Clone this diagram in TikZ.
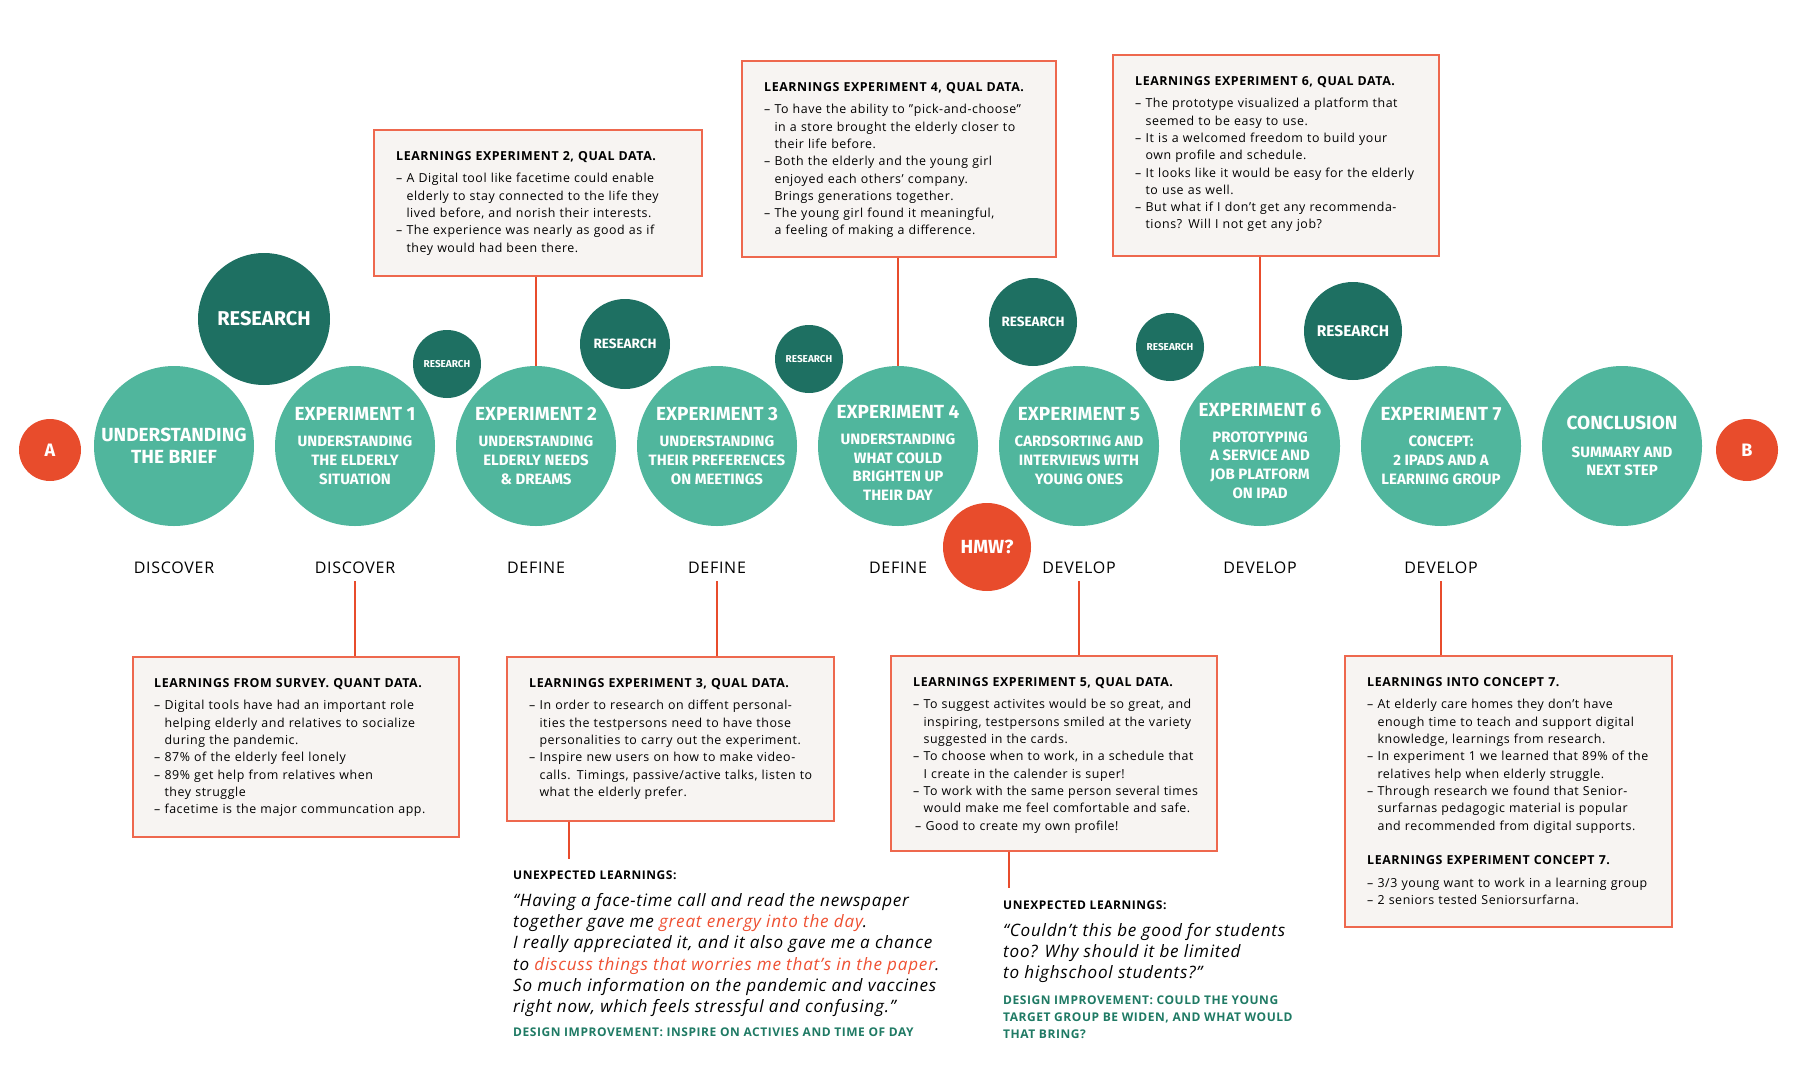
\documentclass[tikz,border=0pt]{standalone}
\usepackage{fontspec}
\setmainfont{Open Sans}[LetterSpace=4.5]
\newfontfamily\circfont{Fira Sans}
\usetikzlibrary{positioning}

\definecolor{stepteal}{RGB}{80,182,157}
\definecolor{resteal}{RGB}{30,112,98}
\definecolor{endred}{RGB}{232,76,44}
\definecolor{boxfill}{RGB}{247,244,242}
\definecolor{boxline}{RGB}{238,104,78}
\definecolor{ideagreen}{RGB}{31,122,100}
\definecolor{quotered}{RGB}{238,80,50}

\newcommand{\dsh}{–\ }
\newcommand{\ind}{\phantom{–\ }}
\newcommand{\stitle}[1]{{\fontsize{19}{19}\selectfont #1}}

\begin{document}
\begin{tikzpicture}[x=1pt,y=-1pt,
  stage/.style={circle,fill=stepteal,text=white,minimum size=160pt,inner sep=0pt,align=center,
    font=\circfont\bfseries\fontsize{15}{18.7}\selectfont},
  stagetext/.style={text=white,inner sep=0pt,align=center,font=\circfont\bfseries\fontsize{15}{18.7}\selectfont},
  research/.style={circle,fill=resteal,text=white,inner sep=0pt,font=\circfont\bfseries},
  endpoint/.style={circle,fill=endred,text=white,inner sep=0pt,font=\circfont\bfseries\fontsize{18}{18}\selectfont},
  phase/.style={font=\fontsize{16}{16}\selectfont},
  learnbox/.style={draw=boxline,line width=1.8pt,fill=boxfill,inner sep=0pt,anchor=north west},
  learntext/.style={anchor=north west,inner sep=0pt,align=left,font=\fontsize{12.4}{17.3}\selectfont},
  unexp/.style={anchor=north west,inner sep=0pt,font=\bfseries\fontsize{12}{15}\selectfont},
  quote/.style={anchor=north west,inner sep=0pt,align=left,font=\itshape\fontsize{17.1}{21.3}\selectfont},
  idea/.style={anchor=north west,inner sep=0pt,align=left,text=ideagreen,font=\bfseries\fontsize{12}{17}\selectfont},
  link/.style={draw=endred,line width=2.4pt},
]
\useasboundingbox (0,0) rectangle (1795,1084);

% learning boxes, top row
\node[learnbox,minimum width=328pt,minimum height=146pt] (b2) at (373,129) {};
\node[learntext,text width=315pt] (t2) at ([shift={(23,22)}]b2.north west) {%
{\bfseries LEARNINGS EXPERIMENT 2, QUAL DATA.}\\[5.4pt]
\dsh A Digital tool like facetime could enable\\
\ind elderly to stay connected to the life they\\
\ind lived before, and norish their interests.\\
\dsh The experience was nearly as good as if\\
\ind they would had been there.};

\node[learnbox,minimum width=314pt,minimum height=196pt] (b4) at (741,60) {};
\node[learntext,text width=300pt] (t4) at ([shift={(23,22)}]b4.north west) {%
{\bfseries LEARNINGS EXPERIMENT 4, QUAL DATA.}\\[5.4pt]
\dsh To have the ability to ”pick-and-choose”\\
\ind in a store brought the elderly closer to\\
\ind their life before.\\
\dsh Both the elderly and the young girl\\
\ind enjoyed each others’ company.\\
\ind Brings generations together.\\
\dsh The young girl found it meaningful,\\
\ind a feeling of making a difference.};

\node[learnbox,minimum width=326pt,minimum height=201pt] (b6) at (1112,54) {};
\node[learntext,text width=315pt] (t6) at ([shift={(23,22)}]b6.north west) {%
{\bfseries LEARNINGS EXPERIMENT 6, QUAL DATA.}\\[5.4pt]
\dsh The prototype visualized a platform that\\
\ind seemed to be easy to use.\\
\dsh It is a welcomed freedom to build your\\
\ind own profile and schedule.\\
\dsh It looks like it would be easy for the elderly\\
\ind to use as well.\\
\dsh But what if I don’t get any recommenda-\\
\ind tions? Will I not get any job?};

% learning boxes, bottom row
\node[learnbox,minimum width=326pt,minimum height=180pt] (bs) at (132,656) {};
\node[learntext,text width=315pt] (ts) at ([shift={(22,22)}]bs.north west) {%
{\bfseries LEARNINGS FROM SURVEY. QUANT DATA.}\\[5.4pt]
\dsh Digital tools have had an important role\\
\ind helping elderly and relatives to socialize\\
\ind during the pandemic.\\
\dsh 87\% of the elderly feel lonely\\
\dsh 89\% get help from relatives when\\
\ind they struggle\\
\dsh facetime is the major communcation app.};

\node[learnbox,minimum width=327pt,minimum height=164pt] (b3) at (506,656) {};
\node[learntext,text width=315pt] (t3) at ([shift={(23,22)}]b3.north west) {%
{\bfseries LEARNINGS EXPERIMENT 3, QUAL DATA.}\\[5.4pt]
\dsh In order to research on diffent personal-\\
\ind ities the testpersons need to have those\\
\ind personalities to carry out the experiment.\\
\dsh Inspire new users on how to make video-\\
\ind calls. Timings, passive/active talks, listen to\\
\ind what the elderly prefer.};

\node[learnbox,minimum width=326pt,minimum height=195pt] (b5) at (890,655) {};
\node[learntext,text width=315pt] (t5) at ([shift={(23,22)}]b5.north west) {%
{\bfseries LEARNINGS EXPERIMENT 5, QUAL DATA.}\\[5.4pt]
\dsh To suggest activites would be so great, and\\
\ind inspiring, testpersons smiled at the variety\\
\ind suggested in the cards.\\
\dsh To choose when to work, in a schedule that\\
\ind I create in the calender is super!\\
\dsh To work with the same person several times\\
\ind would make me feel comfortable and safe.\\
\hspace*{2pt}\dsh Good to create my own profile!};

\node[learnbox,minimum width=327pt,minimum height=271pt] (b7) at (1344,655) {};
\node[learntext,text width=315pt] (t7) at ([shift={(23,22)}]b7.north west) {%
{\bfseries LEARNINGS INTO CONCEPT 7.}\\[5.4pt]
\dsh At elderly care homes they don’t have\\
\ind enough time to teach and support digital\\
\ind knowledge, learnings from research.\\
\dsh In experiment 1 we learned that 89\% of the\\
\ind relatives help when elderly struggle.\\
\dsh Through research we found that Senior-\\
\ind surfarnas pedagogic material is popular\\
\ind and recommended from digital supports.\\[17pt]
{\bfseries LEARNINGS EXPERIMENT CONCEPT 7.}\\[5.4pt]
\dsh 3/3 young want to work in a learning group\\
\dsh 2 seniors tested Seniorsurfarna.};

% unexpected learnings
\node[unexp] (ul1) at (513,871) {UNEXPECTED LEARNINGS:};
\node[quote] (q1) at (513,893) {%
“Having a face-time call and read the newspaper\\
together gave me \textcolor{quotered}{great energy into the day}.\\
I really appreciated it, and it also gave me a chance\\
to \textcolor{quotered}{discuss things that worries me that’s in the paper}.\\
So much information on the pandemic and vaccines\\
right now, which feels stressful and confusing.”};
\node[idea] (d1) at (513,1028) {DESIGN IMPROVEMENT: INSPIRE ON ACTIVIES AND TIME OF DAY};

\node[unexp] (ul2) at (1003,901) {UNEXPECTED LEARNINGS:};
\node[quote] (q2) at (1003,923) {%
“Couldn’t this be good for students\\
too? Why should it be limited\\
to highschool students?”};
\node[idea] (d2) at (1003,996) {DESIGN IMPROVEMENT: COULD THE YOUNG\\
TARGET GROUP BE WIDEN, AND WHAT WOULD\\
THAT BRING?};

% process circles
\node[endpoint,minimum size=62pt] (A) at (50,450) {A};
\node[stage] (brief) at (174,446) {\stitle{UNDERSTANDING}\\[3pt]\stitle{THE BRIEF}};
\node[stage] (exp1) at (355,446) {\stitle{EXPERIMENT 1}\\[7pt]UNDERSTANDING\\THE ELDERLY\\SITUATION};
\node[stage] (exp2) at (536,446) {\stitle{EXPERIMENT 2}\\[7pt]UNDERSTANDING\\ELDERLY NEEDS\\\& DREAMS};
\node[stage] (exp3) at (717,446) {\stitle{EXPERIMENT 3}\\[7pt]UNDERSTANDING\\THEIR PREFERENCES\\ON MEETINGS};
\node[stage] (exp4) at (898,446) {};
\node[stagetext] (exp4t) at ([yshift=-7pt]exp4.center) {\stitle{EXPERIMENT 4}\\[7pt]UNDERSTANDING\\WHAT COULD\\BRIGHTEN UP\\THEIR DAY};
\node[stage] (exp5) at (1079,446) {\stitle{EXPERIMENT 5}\\[7pt]CARDSORTING AND\\INTERVIEWS WITH\\YOUNG ONES};
\node[stage] (exp6) at (1260,446) {};
\node[stagetext] (exp6t) at ([yshift=-5pt]exp6.center) {\stitle{EXPERIMENT 6}\\[7pt]PROTOTYPING\\A SERVICE AND\\JOB PLATFORM\\ON IPAD};
\node[stage] (exp7) at (1441,446) {\stitle{EXPERIMENT 7}\\[7pt]CONCEPT:\\2 IPADS AND A\\LEARNING GROUP};
\node[stage] (concl) at (1622,446) {\stitle{CONCLUSION}\\[9pt]SUMMARY AND\\NEXT STEP};
\node[endpoint,minimum size=62pt] (B) at (1747,450) {B};

% research circles
\node[research,minimum size=132pt,font=\circfont\bfseries\fontsize{20}{20}\selectfont] (r0) at (264,319) {RESEARCH};
\node[research,minimum size=68pt,font=\circfont\bfseries\fontsize{10}{10}\selectfont] (r1) at (447,364) {RESEARCH};
\node[research,minimum size=90pt,font=\circfont\bfseries\fontsize{13.5}{13.5}\selectfont] (r2) at (625,344) {RESEARCH};
\node[research,minimum size=68pt,font=\circfont\bfseries\fontsize{10}{10}\selectfont] (r3) at (809,359) {RESEARCH};
\node[research,minimum size=88pt,font=\circfont\bfseries\fontsize{13.5}{13.5}\selectfont] (r4) at (1033,322) {RESEARCH};
\node[research,minimum size=68pt,font=\circfont\bfseries\fontsize{10}{10}\selectfont] (r5) at (1170,347) {RESEARCH};
\node[research,minimum size=98pt,font=\circfont\bfseries\fontsize{15.5}{15.5}\selectfont] (r6) at (1353,331) {RESEARCH};
\node[endpoint,minimum size=88pt,font=\circfont\bfseries\fontsize{19}{19}\selectfont] (hmw) at (987,547) {HMW?};

% phases
\node[phase] (phb) at (174,568) {DISCOVER};
\node[phase] (ph1) at (355,568) {DISCOVER};
\node[phase] (ph2) at (536,568) {DEFINE};
\node[phase] (ph3) at (717,568) {DEFINE};
\node[phase] (ph4) at (898,568) {DEFINE};
\node[phase] (ph5) at (1079,568) {DEVELOP};
\node[phase] (ph6) at (1260,568) {DEVELOP};
\node[phase] (ph7) at (1441,568) {DEVELOP};

% links
\draw[link] (exp2.north) -- (exp2.north |- b2.south);
\draw[link] (exp4.north) -- (exp4.north |- b4.south);
\draw[link] (exp6.north) -- (exp6.north |- b6.south);
\draw[link,shorten <=4pt] (ph1.south) -- (ph1.south |- bs.north);
\draw[link,shorten <=4pt] (ph3.south) -- (ph3.south |- b3.north);
\draw[link,shorten <=4pt] (ph5.south) -- (ph5.south |- b5.north);
\draw[link,shorten <=4pt] (ph7.south) -- (ph7.south |- b7.north);
\coordinate (u1) at ([xshift=56pt]ul1.north west);
\coordinate (u2) at ([xshift=6pt]ul2.north west);
\draw[link,shorten >=12pt] (u1 |- b3.south) -- (u1);
\draw[link,shorten >=13pt] (u2 |- b5.south) -- (u2);
\end{tikzpicture}
\end{document}
